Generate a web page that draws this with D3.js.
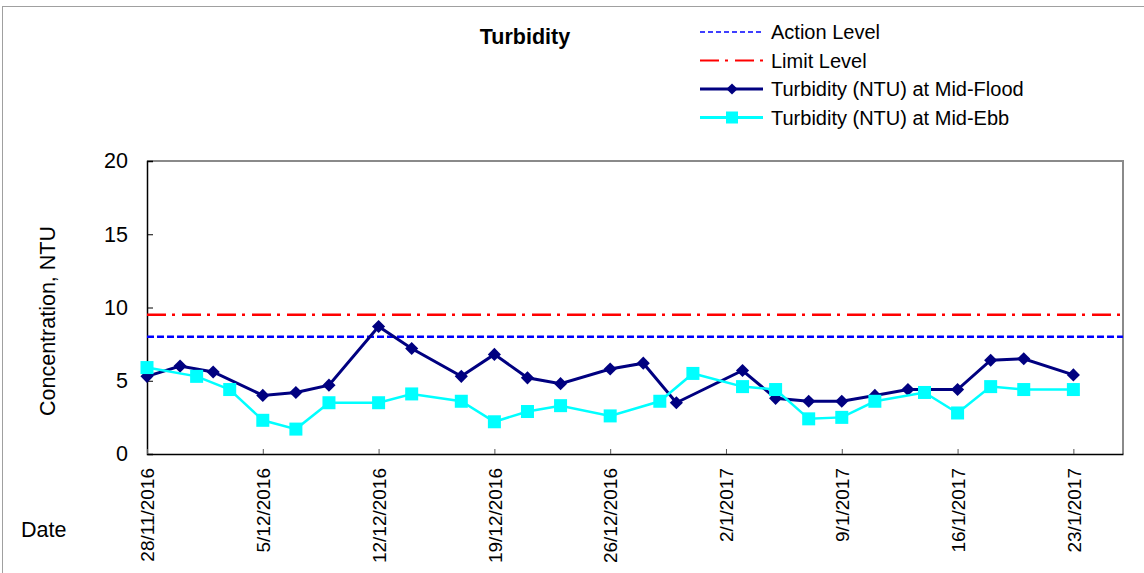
<!DOCTYPE html>
<html>
<head>
<meta charset="utf-8">
<script src="https://cdn.jsdelivr.net/npm/d3@7"></script>
<style>
  body { margin: 0; background: #fff; }
  svg text { font-family: "Liberation Sans", Arial, sans-serif; fill: #000; }
</style>
</head>
<body>
<div id="d3-container"></div>
<script>
/**
 * CONSTANTS AND GLOBALS
 * */
const width = 1144,
  height = 573,
  margin = { top: 161, bottom: 119, left: 147, right: 21 };

/**
 * DATA
 * */
const floodDates = ["2016-11-28", "2016-11-30", "2016-12-02", "2016-12-05", "2016-12-07",
  "2016-12-09", "2016-12-12", "2016-12-14", "2016-12-17", "2016-12-19", "2016-12-21",
  "2016-12-23", "2016-12-26", "2016-12-28", "2016-12-30", "2017-01-03", "2017-01-05",
  "2017-01-07", "2017-01-09", "2017-01-11", "2017-01-13", "2017-01-16", "2017-01-18",
  "2017-01-20", "2017-01-23"];
const floodValues = [5.3, 6.0, 5.6, 4.0, 4.2, 4.7, 8.7, 7.2, 5.3, 6.8, 5.2,
  4.8, 5.8, 6.2, 3.5, 5.7, 3.8, 3.6, 3.6, 4.0, 4.4, 4.4, 6.4, 6.5, 5.4];

const ebbDates = ["2016-11-28", "2016-12-01", "2016-12-03", "2016-12-05", "2016-12-07",
  "2016-12-09", "2016-12-12", "2016-12-14", "2016-12-17", "2016-12-19", "2016-12-21",
  "2016-12-23", "2016-12-26", "2016-12-29", "2016-12-31", "2017-01-03", "2017-01-05",
  "2017-01-07", "2017-01-09", "2017-01-11", "2017-01-14", "2017-01-16", "2017-01-18",
  "2017-01-20", "2017-01-23"];
const ebbValues = [5.9, 5.3, 4.4, 2.3, 1.7, 3.5, 3.5, 4.1, 3.6, 2.2, 2.9,
  3.3, 2.6, 3.6, 5.5, 4.6, 4.4, 2.4, 2.5, 3.6, 4.2, 2.8, 4.6, 4.4, 4.4];

const actionLevel = 8.0;
const limitLevel = 9.5;

const xDomain = ["2016-11-28", "2017-01-26"];
const xTickDates = ["2016-11-28", "2016-12-05", "2016-12-12", "2016-12-19", "2016-12-26",
  "2017-01-02", "2017-01-09", "2017-01-16", "2017-01-23"];
const yTicks = [0, 5, 10, 15, 20];

const seriesNames = ["Action Level", "Limit Level",
  "Turbidity (NTU) at Mid-Flood", "Turbidity (NTU) at Mid-Ebb"];

const parse = d3.timeParse("%Y-%m-%d");
const fmt = d3.timeFormat("%-d/%-m/%Y");

/**
 * SVG + SCALES
 * */
const svg = d3.select("#d3-container")
  .append("svg")
  .attr("width", width)
  .attr("height", height);

// outer chart frame (only top and left visible)
svg.append("rect")
  .attr("x", 2.5).attr("y", 6.5)
  .attr("width", width + 10).attr("height", height + 10)
  .attr("fill", "none")
  .attr("stroke", "#a0a0a0");

const xScale = d3.scaleTime()
  .domain(xDomain.map(parse))
  .range([margin.left, width - margin.right]);

const yScale = d3.scaleLinear()
  .domain([0, 20])
  .range([height - margin.bottom, margin.top]);

const x0 = margin.left, x1 = width - margin.right;
const y0 = height - margin.bottom, y1 = margin.top;

// plot area: gray top/right, black left/bottom
svg.append("path")
  .attr("d", `M${x0},${y1}H${x1}V${y0}`)
  .attr("fill", "none")
  .attr("stroke", "#8a8a8a")
  .attr("stroke-width", 2);

// Y AXIS
const yAxis = d3.axisLeft(yScale)
  .tickValues(yTicks)
  .tickSize(-6)
  .tickPadding(19);
svg.append("g")
  .attr("transform", `translate(${x0},0)`)
  .call(yAxis)
  .call(g => g.select(".domain").attr("stroke", "#000").attr("stroke-width", 1.5))
  .call(g => g.selectAll(".tick line").attr("stroke", "#000"))
  .call(g => g.selectAll(".tick text")
    .attr("font-size", 21.5)
    .attr("font-family", "Liberation Sans, Arial, sans-serif"));

// X AXIS
const xAxis = d3.axisBottom(xScale)
  .tickValues(xTickDates.map(parse))
  .tickFormat(fmt)
  .tickSize(-5)
  .tickSizeOuter(0);
svg.append("g")
  .attr("transform", `translate(0,${y0})`)
  .call(xAxis)
  .call(g => g.select(".domain").attr("stroke", "#000").attr("stroke-width", 1.5))
  .call(g => g.selectAll(".tick line").attr("stroke", "#555"))
  .call(g => g.selectAll(".tick text")
    .attr("font-size", 19)
    .attr("font-family", "Liberation Sans, Arial, sans-serif")
    .attr("transform", "rotate(-90)")
    .attr("text-anchor", "end")
    .attr("x", -14)
    .attr("y", 0)
    .attr("dy", "0.35em"));

// axis titles
svg.append("text")
  .attr("transform", "translate(55,321) rotate(-90)")
  .attr("text-anchor", "middle")
  .attr("font-size", 21.5)
  .text("Concentration, NTU");

svg.append("text")
  .attr("x", 21).attr("y", 537)
  .attr("font-size", 21.5)
  .text("Date");

svg.append("text")
  .attr("x", 525).attr("y", 44)
  .attr("text-anchor", "middle")
  .attr("font-size", 21.5)
  .attr("font-weight", "bold")
  .text("Turbidity");

// LEVEL LINES
svg.append("line")
  .attr("x1", x0).attr("x2", x1)
  .attr("y1", yScale(actionLevel)).attr("y2", yScale(actionLevel))
  .attr("stroke", "#0000ff").attr("stroke-width", 2.5)
  .attr("stroke-dasharray", "7,3");

svg.append("line")
  .attr("x1", x0).attr("x2", x1)
  .attr("y1", yScale(limitLevel)).attr("y2", yScale(limitLevel))
  .attr("stroke", "#ff0000").attr("stroke-width", 2.5)
  .attr("stroke-dasharray", "19,6,3,7");

// SERIES
const floodData = floodDates.map((d, i) => ({ date: parse(d), value: floodValues[i] }));
const ebbData = ebbDates.map((d, i) => ({ date: parse(d), value: ebbValues[i] }));

const line = d3.line()
  .x(d => xScale(d.date))
  .y(d => yScale(d.value));

svg.append("path")
  .datum(floodData)
  .attr("d", line)
  .attr("fill", "none")
  .attr("stroke", "#000080")
  .attr("stroke-width", 3);

svg.selectAll("path.flood")
  .data(floodData)
  .join("path")
  .attr("class", "flood")
  .attr("d", d3.symbol(d3.symbolDiamond2, 110)())
  .attr("fill", "#000080")
  .attr("transform", d => `translate(${xScale(d.date)},${yScale(d.value)})`);

svg.append("path")
  .datum(ebbData)
  .attr("d", line)
  .attr("fill", "none")
  .attr("stroke", "#00ffff")
  .attr("stroke-width", 2.5);

svg.selectAll("rect.ebb")
  .data(ebbData)
  .join("rect")
  .attr("class", "ebb")
  .attr("x", d => xScale(d.date) - 6.5)
  .attr("y", d => yScale(d.value) - 6.5)
  .attr("width", 13).attr("height", 13)
  .attr("fill", "#00ffff");

// LEGEND
const legend = svg.append("g").attr("transform", "translate(700,32)");
const rowGap = 28.5;
const legendStyles = [
  { stroke: "#0000ff", dash: "5,3", width: 1.5, marker: null },
  { stroke: "#ff0000", dash: "19,6,3,7", width: 2, marker: null },
  { stroke: "#000080", dash: null, width: 3, marker: "diamond" },
  { stroke: "#00ffff", dash: null, width: 3, marker: "square" }
];

const rows = legend.selectAll("g.row")
  .data(seriesNames)
  .join("g")
  .attr("class", "row")
  .attr("transform", (d, i) => `translate(0,${i * rowGap})`);

rows.append("line")
  .attr("x1", 0).attr("x2", 63)
  .attr("stroke", (d, i) => legendStyles[i].stroke)
  .attr("stroke-width", (d, i) => legendStyles[i].width)
  .attr("stroke-dasharray", (d, i) => legendStyles[i].dash);

rows.filter((d, i) => legendStyles[i].marker === "diamond")
  .append("path")
  .attr("d", d3.symbol(d3.symbolDiamond2, 80)())
  .attr("transform", "translate(32,0)")
  .attr("fill", "#000080");

rows.filter((d, i) => legendStyles[i].marker === "square")
  .append("rect")
  .attr("x", 26).attr("y", -6).attr("width", 12).attr("height", 12)
  .attr("fill", "#00ffff");

rows.append("text")
  .attr("x", 71)
  .attr("dy", "0.35em")
  .attr("font-size", 20)
  .text(d => d);
</script>
</body>
</html>
